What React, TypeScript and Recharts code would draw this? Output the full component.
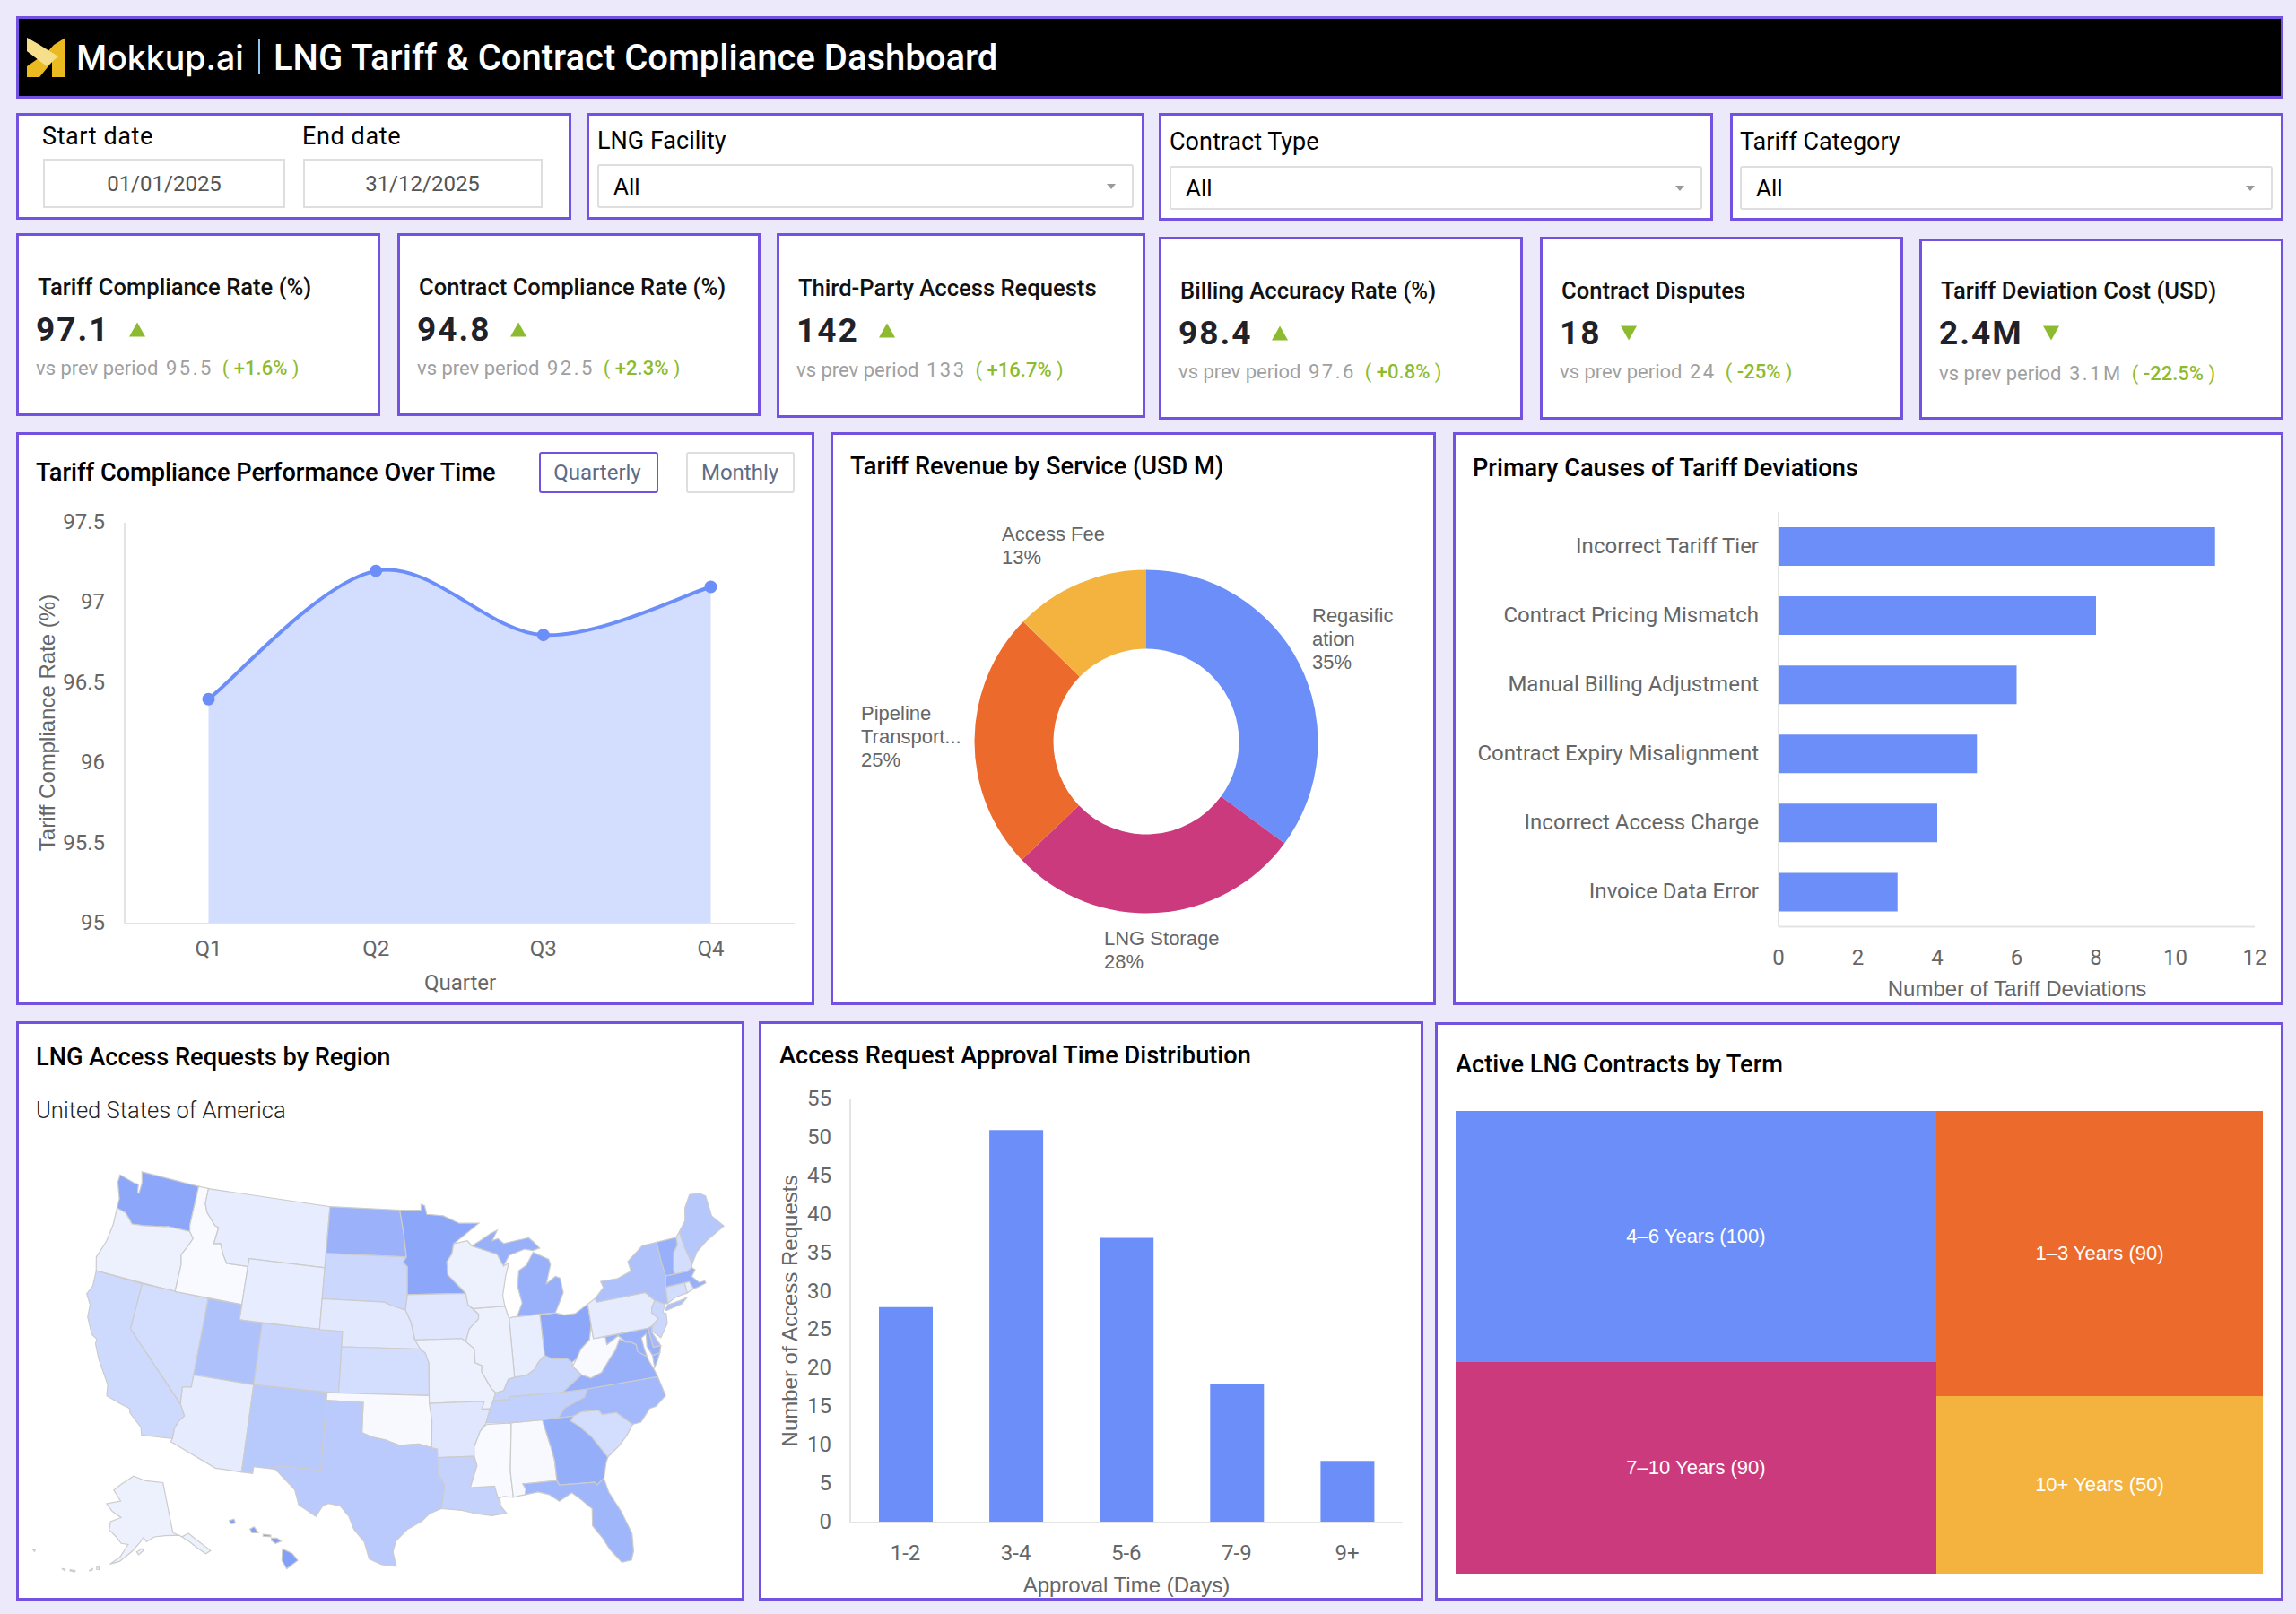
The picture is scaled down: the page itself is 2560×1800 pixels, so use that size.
import React from "react";
import {
  Area, AreaChart, Bar, BarChart, Cell, Pie, PieChart, Scatter, ScatterChart, Treemap, XAxis, YAxis,
} from "recharts";

const BLUE = "#6C8EF8";
const ORANGE = "#EC6A2C";
const MAGENTA = "#CB3A7C";
const YELLOW = "#F4B33F";
const PURPLE = "#7352E2";
const GREEN = "#8DBB2F";
const GREY = "#666666";
const ROBOTO = "Roboto, sans-serif";
const ARIAL = "'Liberation Sans', sans-serif";

// compliance over time
const quarters = ["Q1", "Q2", "Q3", "Q4"];
const complianceRates = [96.4, 97.2, 96.8, 97.1];
const complianceTicks = [95, 95.5, 96, 96.5, 97, 97.5];

// revenue donut
const services = ["Regasification", "LNG Storage", "Pipeline Transport", "Access Fee"];
const serviceShares = [35.1, 27.8, 24.4, 12.7];
const serviceLabels = [["Regasific", "ation", "35%"], ["LNG Storage", "28%"], ["Pipeline", "Transport...", "25%"], ["Access Fee", "13%"]];
const serviceLabelOffsets = [[185, -141], [-47, 219], [-318, -32], [-161, -232]];
const serviceColors = [BLUE, MAGENTA, ORANGE, YELLOW];

// deviation causes
const causes = ["Incorrect Tariff Tier", "Contract Pricing Mismatch", "Manual Billing Adjustment", "Contract Expiry Misalignment", "Incorrect Access Charge", "Invoice Data Error"];
const causeCounts = [11, 8, 6, 5, 4, 3];
const causeTicks = [0, 2, 4, 6, 8, 10, 12];

// approval time histogram
const approvalBins = ["1-2", "3-4", "5-6", "7-9", "9+"];
const approvalCounts = [28, 51, 37, 18, 8];
const approvalTicks = [0, 5, 10, 15, 20, 25, 30, 35, 40, 45, 50, 55];

// contract terms, areas read from the rectangles
const termNames = ["4–6 Years (100)", "7–10 Years (90)", "1–3 Years (90)", "10+ Years (50)"];
const termAreas = [106.6, 89.9, 82.2, 51.3];
const termColors = [BLUE, MAGENTA, ORANGE, YELLOW];

// kpi cards
const kpiTitles = ["Tariff Compliance Rate (%)", "Contract Compliance Rate (%)", "Third-Party Access Requests", "Billing Accuracy Rate (%)", "Contract Disputes", "Tariff Deviation Cost (USD)"];
const kpiValues = ["97.1", "94.8", "142", "98.4", "18", "2.4M"];
const kpiPrevious = ["95.5", "92.5", "133", "97.6", "24", "3.1M"];
const kpiDeltas = ["+1.6%", "+2.3%", "+16.7%", "+0.8%", "-25%", "-22.5%"];
const kpiUp = [true, true, true, true, false, false];

// access requests per state, read from the shading
const stateNames = ["WA", "OR", "CA", "NV", "ID", "MT", "WY", "UT", "CO", "AZ", "NM", "ND", "SD", "NE", "KS", "OK", "TX", "MN", "IA", "MO", "AR", "LA", "MS", "AL", "GA", "FL", "SC", "NC", "TN", "KY", "VA", "WV", "OH", "IN", "IL", "WI", "MI", "PA", "NY", "NJ", "DE", "MD", "CT", "RI", "MA", "VT", "NH", "ME", "AK", "HI"];
const stateRequests = [78, 12, 33, 30, 4, 16, 16, 55, 37, 17, 48, 68, 35, 20, 30, 5, 47, 78, 22, 12, 22, 40, 4, 5, 72, 65, 30, 62, 42, 38, 70, 4, 78, 15, 12, 12, 70, 17, 55, 35, 60, 70, 30, 15, 70, 70, 30, 50, 12, 85];

// state outlines as lon, lat pairs
const stateOutlines: [string, number[]][] = [
  ["WA", [-124.7,48.4,-123.1,48.15,-122.75,48.15,-122.6,47.6,-122.45,47.6,-122.45,48.3,-122.75,49,-117.03,49,-117.04,46.4,-116.92,46,-118.98,46,-119.3,45.93,-121.2,45.65,-122.3,45.55,-122.8,45.9,-123.2,46.15,-124.05,46.27,-124.1,46.9,-124.7,47.9]],
  ["OR", [-124.05,46.27,-123.2,46.15,-122.8,45.9,-122.3,45.55,-121.2,45.65,-119.3,45.93,-118.98,46,-116.92,46,-116.47,45.6,-116.85,44.95,-117.22,44.4,-117.03,43.8,-117.03,42,-124.2,42,-124.55,42.85,-124.1,44,-123.95,45.2]],
  ["CA", [-124.2,42,-120,42,-120,39,-114.63,35,-114.14,34.3,-114.5,33.9,-114.72,33.4,-114.72,32.72,-117.12,32.53,-117.3,33,-118.4,33.75,-118.5,34.03,-119.2,34.15,-120.5,34.45,-120.65,35.15,-121.9,36.6,-122.5,37.5,-122.5,37.8,-123,38,-123.75,39,-123.85,39.8,-124.4,40.4,-124.1,41]],
  ["NV", [-120,42,-114.04,42,-114.04,36.2,-114.75,36.1,-114.63,35,-120,39]],
  ["ID", [-117.03,49,-116.05,49,-116.05,48,-115.7,47.45,-114.7,46.7,-114.35,46.65,-114.5,45.55,-113.9,45.65,-113.45,44.95,-113,44.45,-111.05,44.48,-111.05,42,-117.03,42,-117.03,43.8,-117.22,44.4,-116.85,44.95,-116.47,45.6,-116.92,46,-117.04,46.4]],
  ["MT", [-116.05,49,-104.05,49,-104.05,45,-111.05,45,-111.05,44.48,-113,44.45,-113.45,44.95,-113.9,45.65,-114.5,45.55,-114.35,46.65,-114.7,46.7,-115.7,47.45,-116.05,48]],
  ["WY", [-111.05,45,-104.05,45,-104.05,41,-111.05,41]],
  ["UT", [-114.04,42,-111.05,42,-111.05,41,-109.05,41,-109.05,37,-114.04,37]],
  ["CO", [-109.05,41,-102.05,41,-102.05,37,-109.05,37]],
  ["AZ", [-114.75,36.1,-114.04,36.2,-114.04,37,-109.05,37,-109.05,31.33,-111.07,31.33,-114.81,32.5,-114.72,32.72,-114.72,33.4,-114.5,33.9,-114.14,34.3,-114.63,35]],
  ["NM", [-109.05,37,-103,37,-103.04,32,-106.62,32,-106.53,31.78,-108.2,31.78,-108.2,31.33,-109.05,31.33]],
  ["ND", [-104.05,49,-97.23,49,-96.85,47.6,-96.55,45.94,-104.05,45.94]],
  ["SD", [-104.05,45.94,-96.55,45.94,-96.85,45.6,-96.45,45.3,-96.45,43.5,-96.6,42.5,-97.9,42.8,-98.5,43,-104.05,43]],
  ["NE", [-104.05,43,-98.5,43,-97.9,42.8,-96.6,42.5,-96.1,41.7,-95.85,40.7,-95.31,40,-102.05,40,-102.05,41,-104.05,41]],
  ["KS", [-102.05,40,-95.31,40,-94.9,39.75,-94.6,39.1,-94.62,37,-102.05,37]],
  ["OK", [-103,37,-94.62,37,-94.43,35.4,-94.48,33.64,-95.5,33.9,-97,33.8,-98.1,34.13,-99.2,34.3,-100,34.56,-100,36.5,-103,36.5]],
  ["TX", [-106.62,32,-103.04,32,-103,36.5,-100,36.5,-100,34.56,-99.2,34.3,-98.1,34.13,-97,33.8,-95.5,33.9,-94.48,33.64,-94.04,33.55,-94.04,32,-93.55,31.2,-93.7,30.3,-93.85,29.7,-94.7,29.4,-95.3,28.9,-96.4,28.35,-97.2,27.6,-97.4,26.9,-97.15,25.96,-98.2,26.06,-99.1,26.4,-99.5,27.5,-100.3,28.3,-100.7,29.1,-101.4,29.77,-102.3,29.88,-102.7,29.7,-103.15,28.98,-104.5,29.65,-104.9,30.6,-106.53,31.78]],
  ["MN", [-97.23,49,-95.15,49,-95.15,49.38,-94.8,49.3,-94.6,48.72,-93,48.6,-91.5,48.07,-89.6,48,-92.1,46.75,-92.3,46.1,-92.8,45.6,-92.75,44.75,-91.2,43.5,-96.45,43.5,-96.45,45.3,-96.85,45.6,-96.55,45.94,-96.85,47.6]],
  ["IA", [-96.45,43.5,-91.2,43.5,-91.05,42.75,-90.15,42.1,-90.2,41.8,-91.05,41.2,-91.4,40.4,-91.75,40.6,-95.77,40.58,-96.1,41.7,-96.6,42.5]],
  ["MO", [-95.77,40.58,-91.75,40.6,-91.4,40.4,-90.7,39.9,-90.7,39,-90.15,38.8,-90.2,38.4,-89.5,37.3,-89.15,37,-89.4,36.5,-89.7,36,-90.37,36,-90.15,36.5,-94.62,36.5,-94.62,37,-94.6,39.1,-94.9,39.75,-95.31,40]],
  ["AR", [-94.62,36.5,-90.15,36.5,-90.37,36,-89.7,36,-90.1,35.1,-90.6,34.6,-91.15,33.6,-91.17,33,-94.04,33,-94.04,33.55,-94.48,33.64,-94.43,35.4]],
  ["LA", [-94.04,33,-91.17,33,-91,32.4,-91.6,31,-89.75,31,-89.55,30.2,-89.4,30.05,-89.4,29.7,-89,29.2,-90.1,29.1,-91.3,29.3,-92.3,29.55,-93.85,29.7,-93.7,30.3,-93.55,31.2,-94.04,32]],
  ["MS", [-90.1,35,-88.2,35,-88.1,34.9,-88.47,31.9,-88.4,30.2,-89.1,30.3,-89.55,30.2,-89.75,31,-91.6,31,-91,32.4,-91.17,33,-91.15,33.6,-90.6,34.6]],
  ["AL", [-88.2,35,-85.6,35,-85.1,32.9,-85,32.3,-85,31,-87.6,31,-87.4,30.65,-87.5,30.3,-88,30.25,-88.4,30.2,-88.47,31.9,-88.1,34.9]],
  ["GA", [-85.6,35,-83.1,35,-83.35,34.7,-82.75,34.3,-81.9,33.5,-80.9,32.05,-81.1,31.7,-81.45,30.72,-82.05,30.37,-82.2,30.57,-84.86,30.7,-85,31,-85,32.3,-85.1,32.9]],
  ["FL", [-87.6,31,-85,31,-84.86,30.7,-82.2,30.57,-82.05,30.37,-81.45,30.72,-81.25,29.8,-80.55,28.4,-80.05,26.9,-80.15,25.75,-80.4,25.2,-81.1,25.15,-81.8,26.1,-82.2,26.9,-82.8,27.8,-82.65,28.9,-83.4,29.6,-84,30.1,-85,29.65,-85.7,30.15,-86.5,30.4,-87.5,30.3,-87.4,30.65]],
  ["SC", [-83.35,34.7,-83.1,35,-82.4,35.2,-81.05,35.15,-80.8,34.82,-79.67,34.8,-78.55,33.86,-79.2,33.2,-79.9,32.65,-80.9,32.05,-81.9,33.5,-82.75,34.3]],
  ["NC", [-84.32,35,-83.1,35,-82.4,35.2,-81.05,35.15,-80.8,34.82,-79.67,34.8,-78.55,33.86,-77.9,33.9,-77,34.65,-76.5,34.7,-75.55,35.25,-75.85,36.55,-81.68,36.59,-82,36.1,-83.7,35.6]],
  ["TN", [-89.7,36,-89.4,36.5,-88.05,36.5,-88.07,36.68,-83.68,36.6,-81.68,36.59,-82,36.1,-83.7,35.6,-84.32,35,-85.6,35,-88.2,35,-90.1,35.1]],
  ["KY", [-89.15,37,-89.4,36.5,-88.05,36.5,-88.07,36.68,-83.68,36.6,-81.97,37.54,-82.6,38.17,-82.6,38.42,-83,38.72,-84.2,38.8,-84.82,39.1,-85.4,38.7,-85.8,38.27,-86.5,37.95,-87.5,37.9,-88.05,37.8,-88.5,37.1]],
  ["VA", [-83.68,36.6,-81.68,36.59,-75.85,36.55,-76,37,-76.3,37.7,-76.35,37.95,-77.05,38.4,-77.05,38.85,-77.5,39.1,-77.83,39.13,-78.35,39.4,-78.85,38.75,-79.3,38.4,-80.3,37.5,-81.25,37.25,-81.97,37.54]],
  ["VA", [-75.95,37.15,-75.6,37.55,-75.25,38.03,-75.9,37.95]],
  ["WV", [-81.97,37.54,-81.25,37.25,-80.3,37.5,-79.3,38.4,-78.85,38.75,-78.35,39.4,-77.83,39.13,-78.4,39.63,-79.48,39.2,-79.48,39.72,-80.52,39.72,-80.52,40.64,-80.87,39.7,-81.7,39.2,-82.2,38.6,-82.6,38.17]],
  ["OH", [-84.82,39.1,-84.2,38.8,-83,38.72,-82.6,38.42,-82.2,38.6,-81.7,39.2,-80.87,39.7,-80.52,40.64,-80.52,41.97,-81.7,41.5,-82.7,41.5,-83.45,41.72,-84.8,41.7]],
  ["IN", [-87.5,37.9,-86.5,37.95,-85.8,38.27,-85.4,38.7,-84.82,39.1,-84.8,41.76,-87.2,41.76,-87.52,41.7]],
  ["IL", [-91.4,40.4,-91.05,41.2,-90.2,41.8,-90.15,42.1,-90.64,42.5,-87.8,42.5,-87.52,41.7,-87.5,37.9,-88.05,37.8,-88.5,37.1,-89.15,37,-89.5,37.3,-90.2,38.4,-90.15,38.8,-90.7,39,-90.7,39.9]],
  ["WI", [-92.75,44.75,-92.8,45.6,-92.3,46.1,-92.1,46.75,-90.8,46.9,-90.4,46.55,-88.1,45.9,-87.6,45.1,-87.1,45.25,-87.5,44.4,-87.9,43.2,-87.8,42.5,-90.64,42.5,-91.05,42.75,-91.2,43.5]],
  ["MI", [-86.8,41.76,-84.8,41.76,-83.45,41.72,-83.15,42.1,-82.5,42.95,-82.6,43.9,-83,44.05,-83.9,43.65,-83.3,44.85,-83.4,45.2,-84.75,45.78,-85.5,45,-86.25,44.7,-86.5,43.7,-86.25,42.6]],
  ["MI", [-90.4,46.55,-88.1,45.9,-87.6,45.1,-87,45.75,-85.5,46.05,-84.75,45.9,-84.1,46,-84.6,46.45,-85,46.75,-86.1,46.67,-87.4,46.55,-87.9,46.9,-88.45,46.8,-87.9,47.45,-88.6,47.25,-89.6,46.85]],
  ["PA", [-80.52,41.97,-79.76,42.27,-79.76,42,-75.35,42,-74.7,41.36,-75.1,40.95,-75.2,40.65,-74.75,40.2,-75.4,39.8,-75.8,39.72,-80.52,39.72]],
  ["NY", [-79.76,42,-75.35,42,-74.7,41.36,-73.92,41,-73.65,41,-73.5,42.05,-73.25,42.75,-73.35,43.6,-73.35,45,-74.7,45,-76.3,44.2,-76.2,43.55,-77.5,43.25,-79.05,43.27,-78.9,42.85,-79.76,42.27]],
  ["NY", [-74,40.6,-73.7,40.9,-72.6,40.98,-71.9,41.07,-72.5,40.75,-73.9,40.57]],
  ["NJ", [-74.7,41.36,-73.92,41,-74.25,40.5,-74,40.4,-74.1,39.75,-74.9,38.95,-75.5,39.5,-75.4,39.8,-74.75,40.2,-75.2,40.65,-75.1,40.95]],
  ["DE", [-75.8,39.72,-75.4,39.8,-75.55,39.45,-75.05,38.45,-75.7,38.46]],
  ["MD", [-79.48,39.72,-75.8,39.72,-75.7,38.46,-75.05,38.45,-75.25,38.03,-75.9,37.95,-76.2,38.6,-76.05,39.4,-76.5,39.2,-76.45,38.4,-76.35,37.95,-77.05,38.4,-77.05,38.85,-77.5,39.1,-77.83,39.13,-78.4,39.63,-79.48,39.2]],
  ["CT", [-73.65,41,-73.5,42.05,-71.8,42.02,-71.8,41.35,-72.9,41.25]],
  ["RI", [-71.8,42.02,-71.38,42.02,-71.15,41.5,-71.8,41.35]],
  ["MA", [-73.5,42.05,-73.25,42.75,-71.3,42.7,-70.85,42.87,-70.6,42.65,-71.05,42.3,-70.55,41.8,-70.05,41.8,-70,41.65,-70.65,41.55,-71.15,41.5,-71.38,42.02]],
  ["VT", [-73.35,45,-71.5,45,-71.55,44.5,-72.05,44.1,-72.45,43,-72.45,42.73,-73.25,42.75,-73.35,43.6]],
  ["NH", [-71.5,45,-71.08,45.3,-71,44.3,-70.72,43.07,-70.85,42.87,-71.3,42.7,-72.45,42.73,-72.45,43,-72.05,44.1,-71.55,44.5]],
  ["ME", [-71.08,45.3,-70.3,45.9,-70,46.7,-69.23,47.45,-68.3,47.35,-67.8,47.07,-67.8,45.7,-67,44.85,-68.8,44.3,-70,43.75,-70.72,43.07,-71,44.3]],
  ["AK", [-141,69.65,-141,60.3,-138,59.2,-135.5,59.5,-133.5,58,-131,56,-130.2,55.2,-132,55,-134,56.5,-136,58,-139,59.6,-144,60,-148,60,-151,59.2,-152,60,-153.5,59,-156,57.5,-160,55.5,-163,54.8,-160,56.3,-157.5,58.7,-160,58.8,-162,59.9,-165,61,-165,62.5,-161,63.5,-165,64.4,-168,65.6,-162,66.5,-166,68.3,-163,69.5,-156.5,71.3,-150,70.4]],
  ["AK", [-154.5,57.4,-152.5,58,-152.2,57.6,-153.8,56.9]],
  ["AK", [-166.9,53.9,-166.2,53.95,-166,53.5,-166.8,53.45]],
  ["AK", [-169,52.9,-168,53.5,-168.2,53.1]],
  ["AK", [-174.5,52.2,-173,52.3,-173,52.05,-174.5,52]],
  ["AK", [-177,51.9,-176,52,-176,51.7]],
  ["AK", [-187.2,52.9,-186.5,53,-186.5,52.75]],
  ["HI", [-159.75,22.1,-159.4,22.2,-159.3,21.95,-159.6,21.9]],
  ["HI", [-158.25,21.55,-157.95,21.7,-157.65,21.3,-158.1,21.3]],
  ["HI", [-157.3,21.2,-156.75,21.15,-156.75,21.05,-157.3,21.08]],
  ["HI", [-156.7,20.95,-156.3,20.95,-156,20.75,-156.4,20.6,-156.7,20.8]],
  ["HI", [-155.9,20.25,-155.2,19.95,-154.8,19.5,-155.6,18.95,-155.95,19.5]],
];

const RAD = Math.PI / 180;

function albers(lon: number, lat: number, lon0: number, lat0: number, p1: number, p2: number) {
  const n = (Math.sin(p1 * RAD) + Math.sin(p2 * RAD)) / 2;
  const c = Math.cos(p1 * RAD) ** 2 + 2 * n * Math.sin(p1 * RAD);
  const rho = (la: number) => Math.sqrt(c - 2 * n * Math.sin(la * RAD)) / n;
  const t = n * (lon - lon0) * RAD;
  return { x: rho(lat) * Math.sin(t), y: rho(lat0) - rho(lat) * Math.cos(t) };
}

function project(state: string, lon: number, lat: number) {
  if (state === "HI") return { x: -0.1642 + (lon + 157) * 0.0157, y: -0.1727 + (lat - 20.8) * 0.0173 };
  if (state === "AK") {
    const p = albers(lon, lat, -154, 50, 55, 65);
    return { x: -0.3105 + p.x * 0.354, y: -0.2312 + p.y * 0.354 };
  }
  return albers(lon, lat, -96, 37.5, 29.5, 45.5);
}

const stateRings = stateOutlines.map(([state, flat]) => {
  const points = [];
  for (let i = 0; i < flat.length; i += 2) points.push(project(state, flat[i], flat[i + 1]));
  return { state, points };
});

const shadeOf = (state: string) => {
  const t = stateRequests[stateNames.indexOf(state)] / 100;
  const mix = (a: number) => Math.round(255 + (a - 255) * t);
  return `rgb(${mix(108)},${mix(142)},${mix(248)})`;
};

// catmull-rom curve, the reference line passes its points with this kind of smoothing
function smoothCurve(ctx: any) {
  let pts: number[][] = [];
  return {
    _line: NaN as number,
    areaStart() { this._line = 0; },
    areaEnd() { this._line = NaN; },
    lineStart() { pts = []; },
    point(x: number, y: number) { pts.push([+x, +y]); },
    lineEnd() {
      pts.forEach((p, i) => {
        if (i === 0) {
          if (this._line) ctx.lineTo(p[0], p[1]); else ctx.moveTo(p[0], p[1]);
          return;
        }
        const a = pts[Math.max(i - 2, 0)];
        const b = pts[i - 1];
        const d = pts[Math.min(i + 1, pts.length - 1)];
        ctx.bezierCurveTo(b[0] + (p[0] - a[0]) / 6, b[1] + (p[1] - a[1]) / 6, p[0] - (d[0] - b[0]) / 6, p[1] - (d[1] - b[1]) / 6, p[0], p[1]);
      });
      if (this._line) ctx.closePath();
      this._line = 1 - this._line;
    },
  };
}

const lineRows = quarters.map((q, i) => ({ q, rate: complianceRates[i] }));
const serviceRows = services.map((name, i) => ({ name, share: serviceShares[i] }));
const causeRows = causes.map((cause, i) => ({ cause, count: causeCounts[i] }));
const approvalRows = approvalBins.map((bin, i) => ({ bin, count: approvalCounts[i] }));
const termRows = termNames.map((name, i) => ({ name, size: termAreas[i], fill: termColors[i] }));

const tickStyle = { fontFamily: ROBOTO, fontSize: 24, fill: GREY };
const sideTickStyle = { ...tickStyle, dy: -1.5 };
const axisLine = { stroke: "#E4E4E4", strokeWidth: 2 };

function Text({ x, y, size, color = "#000", weight = 400, family = ROBOTO, spacing, rotate, center, children }: any) {
  const shift = center ? "-50%" : "0";
  return (
    <div style={{
      position: "absolute", left: x, top: y, fontSize: size, color, fontWeight: weight, fontFamily: family,
      letterSpacing: spacing, lineHeight: 1, whiteSpace: "nowrap",
      transform: `translate(${shift}, -50%)${rotate ? ` rotate(${rotate}deg)` : ""}`,
    }}>{children}</div>
  );
}

function Panel({ x, y, w, h, children }: any) {
  return (
    <div style={{ position: "absolute", left: x, top: y, width: w, height: h, boxSizing: "border-box", background: "#fff", border: `3px solid ${PURPLE}` }}>
      {children}
    </div>
  );
}

function At({ x, y, children }: any) {
  return <div style={{ position: "absolute", left: x, top: y }}>{children}</div>;
}

function Box({ x, y, w, h, border = "#DEDEDE", radius = 0, children }: any) {
  return (
    <div style={{
      position: "absolute", left: x, top: y, width: w, height: h, boxSizing: "border-box", background: "#fff",
      border: `2px solid ${border}`, borderRadius: radius,
    }}>{children}</div>
  );
}

function Select({ x, y, w, title, labelY }: any) {
  return (
    <>
      <Text x={x} y={labelY} size={27}>{title}</Text>
      <Box x={x} y={y} w={w} h={49} radius={3} />
      <Text x={x + 18} y={y + 25} size={26}>All</Text>
      <div style={{
        position: "absolute", left: x + w - 30, top: y + 22, width: 0, height: 0,
        borderLeft: "5px solid transparent", borderRight: "5px solid transparent", borderTop: "6px solid #999",
      }} />
    </>
  );
}

function Triangle({ up }: { up: boolean }) {
  const edge = { borderLeft: "9px solid transparent", borderRight: "9px solid transparent" };
  return <span style={{ display: "inline-block", marginLeft: 22, width: 0, height: 0, ...edge, ...(up ? { borderBottom: `16px solid ${GREEN}` } : { borderTop: `16px solid ${GREEN}` }) }} />;
}

const kpiCards = [[18, 260, 406, 204], [443, 260, 405, 204], [866, 260, 411, 206], [1292, 264, 406, 204], [1717, 264, 405, 204], [2140, 266, 406, 202]];
const kpiTitleY = [320.5, 320.5, 321.5, 324.5, 324.5, 324.5];
const kpiValueY = [367, 367, 368, 371, 371, 371];
const kpiSubY = [411, 411, 413, 415, 415, 417];

function Kpi({ i }: { i: number }) {
  const [x, y, w, h] = kpiCards[i];
  return (
    <>
      <Panel x={x} y={y} w={w} h={h} />
      <Text x={x + 24} y={kpiTitleY[i]} size={25.6} weight={500} color="#111">{kpiTitles[i]}</Text>
      <Text x={x + 22} y={kpiValueY[i]} size={37} weight={700} color="#1F2329" spacing={2}>
        <span style={{ display: "inline-flex", alignItems: "center" }}>{kpiValues[i]}<Triangle up={kpiUp[i]} /></span>
      </Text>
      <Text x={x + 22} y={kpiSubY[i]} size={22} color="#A0A0A0">
        vs prev period <span style={{ letterSpacing: 2.5, marginLeft: 3 }}>{kpiPrevious[i]}</span>
        <span style={{ color: GREEN, marginLeft: 10 }}>( <span style={{ fontWeight: 500 }}>{kpiDeltas[i]}</span> )</span>
      </Text>
    </>
  );
}

function ServiceLabel({ cx, cy, index }: any) {
  const [dx, dy] = serviceLabelOffsets[index];
  return (
    <text x={cx + dx} y={cy + dy} fontFamily={ARIAL} fontSize={22} fill={GREY}>
      {serviceLabels[index].map((line, i) => (
        <tspan key={i} x={cx + dx} dy={i === 0 ? 8 : 26}>{line}</tspan>
      ))}
    </text>
  );
}

function TermCell({ x, y, width, height, depth, name, index }: any) {
  if (depth !== 1) return null;
  return (
    <g>
      <rect x={x} y={y} width={width} height={height} fill={termColors[index]} />
      <text x={x + width / 2} y={y + height / 2 - 1} textAnchor="middle" dominantBaseline="central" fontFamily={ARIAL} fontSize={22} fill="#fff">{name}</text>
    </g>
  );
}

const statePolygon = (fill: string) => (props: any) => (
  <polygon points={props.points.map((p: any) => `${p.x},${p.y}`).join(" ")} fill={fill} stroke="#CCCCCC" strokeWidth={1.2} />
);

export default function App() {
  return (
    <div style={{ position: "absolute", left: 0, top: 0, width: 2560, height: 1800, background: "#ECE9FA", overflow: "hidden" }}>
      <div style={{ position: "absolute", left: 18, top: 18, width: 2528, height: 92, boxSizing: "border-box", background: "#000", border: `3px solid ${PURPLE}` }} />
      <svg style={{ position: "absolute", left: 30, top: 42 }} width={44} height={45} viewBox="0 0 44 45">
        <path d="M0 0 L14 8 L22 17 L30 8 L43 0 L43 44 L28 44 L28 27 L14 44 L0 44 L0 32 L13 23 L0 15 Z" fill="#EBB920" />
        <path d="M0 0 L14 8 L35 21 L22 32 L0 15 Z" fill="#F5DF8A" />
      </svg>
      <Text x={85} y={65} size={37.5} weight={500} family="Inter, sans-serif" color="#fff">Mokkup.ai</Text>
      <div style={{ position: "absolute", left: 288, top: 43, width: 2, height: 40, background: "#8FC7F0" }} />
      <Text x={305} y={65} size={40} weight={500} color="#fff">LNG Tariff &amp; Contract Compliance Dashboard</Text>

      <Panel x={18} y={126} w={619} h={119} />
      <Text x={47} y={152} size={27} spacing={0.6}>Start date</Text>
      <Text x={337} y={152} size={27} spacing={0.6}>End date</Text>
      <Box x={48} y={177} w={270} h={55}><Text x={133} y={26} size={24} color="#555" center>01/01/2025</Text></Box>
      <Box x={338} y={177} w={267} h={55}><Text x={131} y={26} size={24} color="#555" center>31/12/2025</Text></Box>

      <Panel x={654} y={126} w={622} h={119} />
      <Select x={666} y={183} w={598} labelY={157} title="LNG Facility" />
      <Panel x={1292} y={126} w={618} h={120} />
      <Select x={1304} y={185} w={594} labelY={158} title="Contract Type" />
      <Panel x={1929} y={126} w={617} h={120} />
      <Select x={1940} y={185} w={594} labelY={158} title="Tariff Category" />

      {kpiCards.map((_, i) => <Kpi key={i} i={i} />)}

      <Panel x={18} y={482} w={890} h={639} />
      <At x={18} y={483}>
        <AreaChart width={888} height={637} data={lineRows} margin={{ top: 100, right: 20, bottom: 0, left: 0 }}>
          <XAxis dataKey="q" height={90} padding={{ left: 93.5, right: 93.5 }} tick={tickStyle} tickLine={false} axisLine={axisLine} tickMargin={13} />
          <YAxis domain={[95, 97.5]} ticks={complianceTicks} width={121} tick={sideTickStyle} tickLine={false} axisLine={axisLine} tickMargin={16} />
          <Area dataKey="rate" type={smoothCurve as any} stroke={BLUE} strokeWidth={4} fill={BLUE} fillOpacity={0.3} dot={{ r: 5, fill: BLUE, stroke: BLUE, fillOpacity: 1 }} isAnimationActive={false} />
        </AreaChart>
      </At>
      <Text x={40} y={527.5} size={27.2} weight={500}>Tariff Compliance Performance Over Time</Text>
      <Box x={601} y={504} w={133} h={46} border={PURPLE} radius={3}><Text x={63} y={21} size={24} color="#5E6B85" center>Quarterly</Text></Box>
      <Box x={765} y={504} w={121} h={46} radius={3}><Text x={58} y={21} size={24} color="#5E6B85" center>Monthly</Text></Box>
      <Text x={53} y={806} size={24} family={ARIAL} color={GREY} rotate={-90} center>Tariff Compliance Rate (%)</Text>
      <Text x={513} y={1096} size={24} color={GREY} center>Quarter</Text>

      <Panel x={926} y={482} w={675} h={639} />
      <At x={926} y={483}>
        <PieChart width={674} height={637} margin={{ top: 0, right: 0, bottom: 0, left: 0 }}>
          <Pie data={serviceRows} dataKey="share" nameKey="name" cx={352} cy={344} innerRadius={103.5} outerRadius={191.5} startAngle={90} endAngle={-270} stroke="none" label={<ServiceLabel />} labelLine={false} isAnimationActive={false}>
            {serviceRows.map((_, i) => <Cell key={i} fill={serviceColors[i]} />)}
          </Pie>
        </PieChart>
      </At>
      <Text x={948} y={520.5} size={27.2} weight={500}>Tariff Revenue by Service (USD M)</Text>

      <Panel x={1620} y={482} w={926} h={639} />
      <At x={1620} y={483}>
        <BarChart width={925} height={637} layout="vertical" data={causeRows} margin={{ top: 88, right: 31, bottom: 0, left: 0 }}>
          <XAxis type="number" domain={[0, 12]} ticks={causeTicks} height={86.5} tick={tickStyle} tickLine={false} axisLine={axisLine} tickMargin={19} />
          <YAxis type="category" dataKey="cause" width={363} interval={0} tick={sideTickStyle} tickLine={false} axisLine={axisLine} tickMargin={16} />
          <Bar dataKey="count" fill={BLUE} barSize={43} isAnimationActive={false} />
        </BarChart>
      </At>
      <Text x={1642} y={522.5} size={27.2} weight={500}>Primary Causes of Tariff Deviations</Text>
      <Text x={2249} y={1103} size={24} family={ARIAL} color={GREY} center>Number of Tariff Deviations</Text>

      <Panel x={18} y={1139} w={812} h={646} />
      <At x={18} y={1140}>
        <ScatterChart width={810} height={645} margin={{ top: 0, right: 0, bottom: 0, left: 0 }}>
          <XAxis type="number" dataKey="x" domain={[-0.4485, 0.3739]} hide />
          <YAxis type="number" dataKey="y" domain={[-0.2407, 0.4141]} hide />
          {stateRings.map((ring, i) => (
            <Scatter key={i} data={ring.points} line={statePolygon(shadeOf(ring.state))} shape={() => <g />} isAnimationActive={false} />
          ))}
        </ScatterChart>
      </At>
      <Text x={40} y={1179.5} size={27.2} weight={500}>LNG Access Requests by Region</Text>
      <Text x={40} y={1239} size={25.6} weight={300} color="#222">United States of America</Text>

      <Panel x={846} y={1139} w={741} h={646} />
      <At x={846} y={1139}>
        <BarChart width={739} height={646} data={approvalRows} margin={{ top: 87, right: 21.5, bottom: 0, left: 0 }}>
          <XAxis dataKey="bin" height={87} interval={0} tick={tickStyle} tickLine={false} axisLine={axisLine} tickMargin={19} />
          <YAxis domain={[0, 55]} ticks={approvalTicks} width={102} interval={0} tick={sideTickStyle} tickLine={false} axisLine={axisLine} tickMargin={15} />
          <Bar dataKey="count" fill={BLUE} barSize={60} isAnimationActive={false} />
        </BarChart>
      </At>
      <Text x={869} y={1177.5} size={27.2} weight={500}>Access Request Approval Time Distribution</Text>
      <Text x={881} y={1462} size={24} family={ARIAL} color={GREY} rotate={-90} center>Number of Access Requests</Text>
      <Text x={1256} y={1768} size={24} family={ARIAL} color={GREY} center>Approval Time (Days)</Text>

      <Panel x={1600} y={1140} w={946} h={645} />
      <At x={1623} y={1239}>
        <Treemap width={900} height={516} data={termRows} dataKey="size" nameKey="name" type="flat" content={<TermCell />} isAnimationActive={false} />
      </At>
      <Text x={1623} y={1187.5} size={27.2} weight={500}>Active LNG Contracts by Term</Text>
    </div>
  );
}
